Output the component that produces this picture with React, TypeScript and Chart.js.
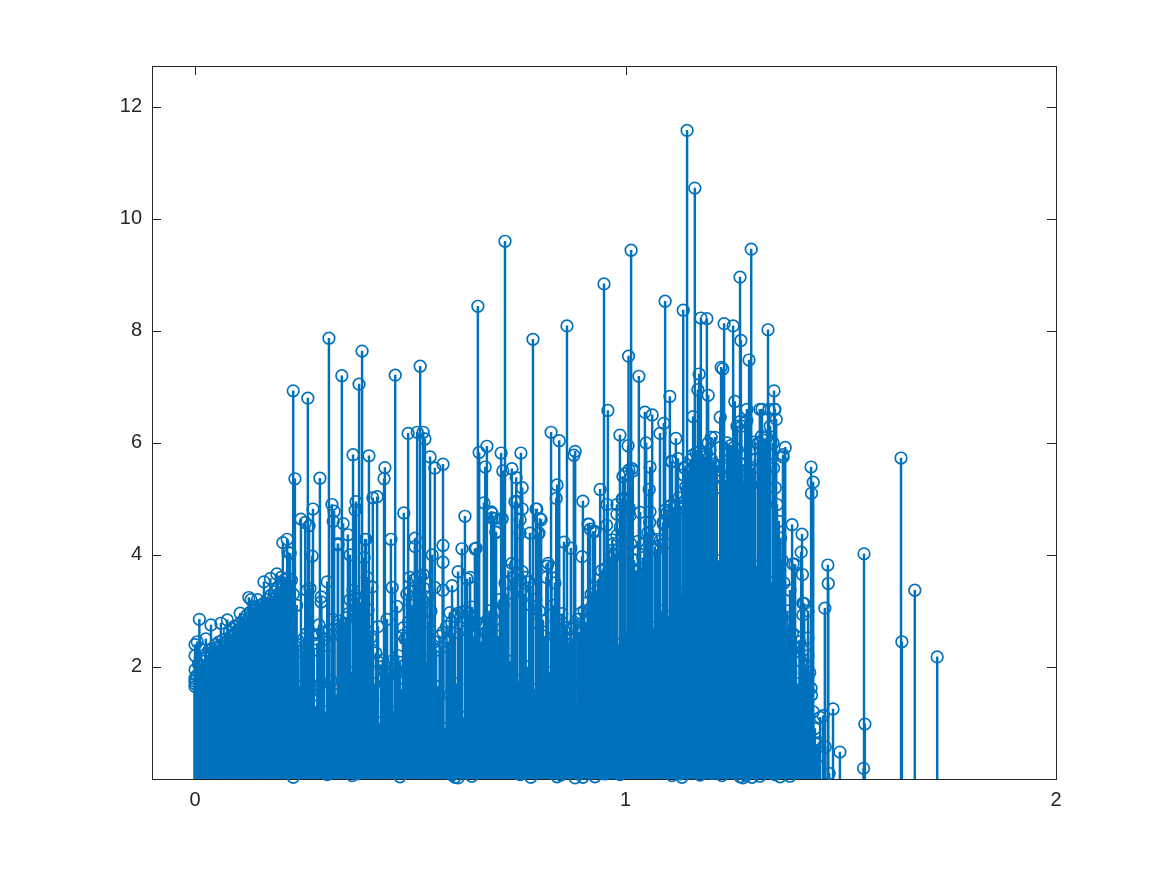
import React, { useEffect, useRef } from "react";
import { Chart, registerables } from "chart.js";

Chart.register(...registerables);

const peakX = [
  0, 0, 0, 0, 0, 0, 0.005, 0.01, 0.025, 0.037, 0.06, 0.075, 0.09, 0.105, 0.125, 0.13, 0.145, 0.16, 0.175, 0.19, 0.2,
  0.228, 0.232, 0.262, 0.29, 0.311, 0.341, 0.381, 0.388, 0.367, 0.404, 0.441, 0.439, 0.465, 0.485, 0.495, 0.516, 0.523, 0.53, 0.534, 0.546, 0.557, 0.576, 0.455,
  0.246, 0.256, 0.265, 0.274, 0.204, 0.214, 0.216, 0.221, 0.272, 0.318, 0.323, 0.321, 0.344, 0.332, 0.372, 0.374, 0.395, 0.413, 0.423, 0.36, 0.393,
  0.657, 0.72, 0.66, 0.678, 0.674, 0.671, 0.627, 0.711, 0.715, 0.736, 0.746, 0.757, 0.76, 0.748, 0.688, 0.695, 0.699, 0.713, 0.785, 0.792, 0.801, 0.797,
  0.827, 0.846, 0.841, 0.839, 0.864, 0.883, 0.88, 0.901, 0.915, 0.925, 0.941, 0.95, 0.959, 0.957, 0.956, 0.987, 1.006, 1.013, 1.007, 1.031, 1.045, 1.062, 1.048, 1.057, 1.055,
  0.999, 1.008, 1.015, 0.994, 1.08, 1.089, 1.092, 1.103, 1.106, 1.117, 1.122, 1.134, 1.143, 1.136, 1.161, 1.157, 1.168, 1.171, 1.175, 1.189, 1.192, 1.199,
  1.222, 1.226, 1.229, 1.25, 1.254, 1.266, 1.268, 1.259, 1.269, 1.282, 1.287, 1.292, 1.278, 1.312, 1.331, 1.345, 1.333, 1.346, 1.35, 1.371,
  1.387, 1.394, 1.41, 1.408, 1.411, 1.415, 1.431, 1.436, 1.432, 1.431, 1.452, 1.47, 1.471, 1.463, 1.459, 1.449, 1.464, 1.482, 1.473, 1.498, 1.554, 1.556, 1.553, 1.64, 1.642, 1.672, 1.724,
];
const peakY = [
  2.4, 2.2, 1.95, 1.8, 1.75, 1.65, 2.45, 2.85, 2.5, 2.75, 2.78, 2.84, 2.72, 2.96, 3.24, 3.2, 3.2, 3.52, 3.58, 3.66, 3.6,
  6.93, 5.36, 6.8, 5.37, 7.87, 7.2, 7.05, 7.64, 5.79, 5.77, 5.56, 5.36, 7.21, 4.75, 6.17, 6.19, 7.37, 6.19, 6.07, 5.75, 5.55, 5.62, 4.28,
  4.64, 4.58, 4.52, 4.82, 4.22, 4.28, 4.05, 4.03, 3.98, 4.9, 4.78, 4.6, 4.56, 4.2, 4.8, 4.95, 4.28, 5.02, 5.04, 4, 3.95,
  8.44, 9.6, 5.83, 5.94, 5.57, 4.93, 4.69, 5.82, 5.5, 5.54, 5.38, 5.82, 5.2, 4.95, 4.77, 4.65, 4.4, 4.65, 7.85, 4.82, 4.65, 4.38,
  6.19, 6.04, 5.25, 5.01, 8.09, 5.85, 5.78, 4.96, 4.55, 4.42, 5.17, 8.84, 6.58, 4.9, 4.53, 6.14, 5.95, 9.44, 7.55, 7.19, 6.55, 6.5, 6, 5.57, 5.17,
  5.45, 5.52, 5.54, 5, 6.17, 6.35, 8.53, 6.83, 5.67, 6.08, 5.72, 8.37, 11.58, 5.56, 10.55, 6.47, 6.95, 7.23, 8.23, 8.22, 6.85, 6.1,
  7.35, 7.32, 8.13, 8.09, 6.74, 8.96, 7.83, 6.3, 6.3, 6.6, 7.48, 9.46, 6.37, 6.6, 8.02, 6.93, 6.6, 6.6, 6.42, 5.92,
  4.54, 3.83, 4.37, 4.05, 3.65, 3.13, 5.57, 5.3, 5.1, 1.62, 1.1, 3.82, 3.49, 3.05, 1.13, 0.65, 0.57, 1.25, 0.1, 0.48, 4.02, 0.98, 0.19, 5.73, 2.45, 3.37, 2.18,
];

const midX = [
  0.69, 0.69, 0.713, 0.699, 0.653, 0.639, 0.743, 0.76, 0.755, 0.755, 0.778, 0.794, 0.804, 0.799, 0.818, 0.857, 0.873, 0.899, 0.913, 0.918, 0.929, 0.969, 0.971, 0.98, 0.98, 0.992, 0.994, 1.017, 1.01, 1.029, 1.017, 1.034, 1.057, 1.092, 1.103, 1.087, 1.138, 1.134, 1.143, 1.145,
  0.307, 0.293, 0.293, 0.26, 0.267, 0.288, 0.367, 0.411, 0.402, 0.446, 0.425, 0.469, 0.458, 0.483, 0.492, 0.492, 0.499, 0.53, 0.511, 0.511, 0.551, 0.576, 0.576, 0.557, 0.576, 0.597, 0.611, 0.632, 0.62, 0.65, 0.643, 0.592, 0.332, 0.355, 0.397, 0.4,
  1.22, 1.266, 1.301, 1.236, 1.192, 1.208, 1.108, 1.317, 1.347, 1.282, 1.301, 1.343, 1.336, 1.312, 1.231, 1.366, 1.366, 1.382, 1.389, 1.412, 1.424, 1.424, 1.412,
];
const midY = [
  4.74, 4.66, 4.64, 4.41, 4.12, 3.6, 4.95, 4.82, 4.63, 4.39, 4.39, 4.82, 4.63, 4.39, 3.8, 4.23, 4.12, 3.97, 4.55, 4.46, 4.42, 4.27, 4, 4.9, 4.73, 5, 5.4, 5.5, 4.7, 4.24, 3.92, 4.76, 4.77, 4.8, 4.86, 4.58, 5.55, 5.43, 5.16, 5.04,
  3.52, 3.25, 3.16, 3.37, 3.4, 2.75, 3.37, 3.43, 3.02, 2.85, 2.72, 3.08, 3.42, 2.56, 3.3, 2.5, 3.6, 3.65, 4.3, 4.15, 4, 4.17, 3.87, 3.42, 3.37, 3.45, 3.7, 3.57, 4.11, 4.11, 3.07, 2.97, 4.18, 4.36, 4.28, 3.6,
  6.46, 6.38, 6.02, 6, 6, 6.1, 5.67, 6.6, 6.6, 6.4, 5.7, 6, 6.3, 6, 5.3, 5.79, 5.75, 3.37, 3.84, 3.14, 2.52, 3, 2.93,
];

const lowX = [0.228, 0.307, 0.365, 0.376, 0.476, 0.574, 0.597, 0.604, 0.611, 0.643, 0.755, 0.78, 0.827, 0.841, 0.85, 0.883, 0.892, 0.901, 0.929, 0.952, 0.987, 1.108, 1.127, 1.131, 1.173, 1.201, 1.224, 1.266, 1.273, 1.28, 1.294, 1.312, 1.347, 1.359, 1.382];
const lowY = [0.03, 0.08, 0.06, 0.09, 0.04, 0.12, 0.07, 0.03, 0.02, 0.05, 0.08, 0.03, 0.11, 0.04, 0.07, 0.02, 0.09, 0.03, 0.04, 0.09, 0.08, 0.06, 0.09, 0.03, 0.07, 0.1, 0.06, 0.04, 0.02, 0.06, 0.03, 0.05, 0.08, 0.04, 0.05];

const fillX = [
  0, 0.004, 0.008, 0.012, 0.016, 0.02, 0.024, 0.028, 0.032, 0.036,
  0.04, 0.044, 0.048, 0.052, 0.056, 0.06, 0.064, 0.068, 0.072, 0.076,
  0.08, 0.084, 0.088, 0.092, 0.096, 0.1, 0.104, 0.108, 0.112, 0.116,
  0.12, 0.124, 0.128, 0.132, 0.136, 0.14, 0.144, 0.148, 0.152, 0.156,
  0.16, 0.164, 0.168, 0.172, 0.176, 0.18, 0.184, 0.188, 0.192, 0.196,
  0.2, 0.204, 0.208, 0.212, 0.216, 0.22, 0.224, 0.228, 0.232, 0.236,
  0.24, 0.244, 0.248, 0.252, 0.256, 0.26, 0.264, 0.268, 0.272, 0.276,
  0.28, 0.284, 0.288, 0.292, 0.296, 0.3, 0.304, 0.308, 0.312, 0.316,
  0.32, 0.324, 0.328, 0.332, 0.336, 0.34, 0.344, 0.348, 0.352, 0.356,
  0.36, 0.364, 0.368, 0.372, 0.376, 0.38, 0.384, 0.388, 0.392, 0.396,
  0.4, 0.404, 0.408, 0.412, 0.416, 0.42, 0.424, 0.428, 0.432, 0.436,
  0.44, 0.444, 0.448, 0.452, 0.456, 0.46, 0.464, 0.468, 0.472, 0.476,
  0.48, 0.484, 0.488, 0.492, 0.496, 0.5, 0.504, 0.508, 0.512, 0.516,
  0.52, 0.524, 0.528, 0.532, 0.536, 0.54, 0.544, 0.548, 0.552, 0.556,
  0.56, 0.564, 0.568, 0.572, 0.576, 0.58, 0.584, 0.588, 0.592, 0.596,
  0.6, 0.604, 0.608, 0.612, 0.616, 0.62, 0.624, 0.628, 0.632, 0.636,
  0.64, 0.644, 0.648, 0.652, 0.656, 0.66, 0.664, 0.668, 0.672, 0.676,
  0.68, 0.684, 0.688, 0.692, 0.696, 0.7, 0.704, 0.708, 0.712, 0.716,
  0.72, 0.724, 0.728, 0.732, 0.736, 0.74, 0.744, 0.748, 0.752, 0.756,
  0.76, 0.764, 0.768, 0.772, 0.776, 0.78, 0.784, 0.788, 0.792, 0.796,
  0.8, 0.804, 0.808, 0.812, 0.816, 0.82, 0.824, 0.828, 0.832, 0.836,
  0.84, 0.844, 0.848, 0.852, 0.856, 0.86, 0.864, 0.868, 0.872, 0.876,
  0.88, 0.884, 0.888, 0.892, 0.896, 0.9, 0.904, 0.908, 0.912, 0.916,
  0.92, 0.924, 0.928, 0.932, 0.936, 0.94, 0.944, 0.948, 0.952, 0.956,
  0.96, 0.964, 0.968, 0.972, 0.976, 0.98, 0.984, 0.988, 0.992, 0.996,
  1, 1.004, 1.008, 1.012, 1.016, 1.02, 1.024, 1.028, 1.032, 1.036,
  1.04, 1.044, 1.048, 1.052, 1.056, 1.06, 1.064, 1.068, 1.072, 1.076,
  1.08, 1.084, 1.088, 1.092, 1.096, 1.1, 1.104, 1.108, 1.112, 1.116,
  1.12, 1.124, 1.128, 1.132, 1.136, 1.14, 1.144, 1.148, 1.152, 1.156,
  1.16, 1.164, 1.168, 1.172, 1.176, 1.18, 1.184, 1.188, 1.192, 1.196,
  1.2, 1.204, 1.208, 1.212, 1.216, 1.22, 1.224, 1.228, 1.232, 1.236,
  1.24, 1.244, 1.248, 1.252, 1.256, 1.26, 1.264, 1.268, 1.272, 1.276,
  1.28, 1.284, 1.288, 1.292, 1.296, 1.3, 1.304, 1.308, 1.312, 1.316,
  1.32, 1.324, 1.328, 1.332, 1.336, 1.34, 1.344, 1.348, 1.352, 1.356,
  1.36, 1.364, 1.368, 1.372, 1.376, 1.38, 1.384, 1.388, 1.392, 1.396,
  1.4, 1.404, 1.408, 1.412, 1.416, 1.42, 1.424, 1.428, 1.432, 1.436,
  1.44, 1.444, 1.448,
];
const fillY = [
  1.7, 1.85, 2.05, 2.0, 2.15, 2.1, 2.22, 2.18, 2.3, 2.25,
  2.32, 2.28, 2.4, 2.36, 2.45, 2.38, 2.48, 2.42, 2.5, 2.46,
  2.62, 2.55, 2.68, 2.6, 2.72, 2.66, 2.78, 2.7, 2.84, 2.76,
  2.92, 2.86, 2.98, 2.9, 3.04, 2.96, 3.08, 3.0, 3.1, 3.04,
  3.14, 3.08, 3.2, 3.12, 3.28, 3.2, 3.34, 3.25, 3.4, 3.32,
  3.52, 3.4, 3.56, 3.48, 3.58, 3.5, 3.55, 3.3, 1.42, 3.1,
  2.4, 1.65, 2.28, 2.5, 1.1, 2.6, 2.22, 1.55, 2.56, 2.3,
  1.3, 2.42, 2.58, 1.7, 2.62, 2.5, 1.2, 2.38, 2.66, 1.75,
  2.85, 2.6, 1.5, 2.74, 2.82, 2.55, 1.8, 2.78, 2.88, 2.95,
  3.2, 1.9, 3.12, 3.28, 3.05, 3.22, 3.15, 1.6, 2.7, 2.58,
  2.64, 1.3, 2.52, 2.3, 1.7, 2.25, 2.1, 1.0, 2.0, 2.12,
  1.92, 1.4, 1.85, 1.98, 2.1, 1.2, 2.02, 1.88, 2.2, 2.08,
  1.6, 2.7, 2.5, 1.95, 2.8, 3.35, 3.1, 3.55, 1.75, 3.6,
  3.45, 3.62, 3.2, 3.4, 2.1, 3.25, 2.8, 3.0, 1.2, 2.45,
  2.3, 1.65, 2.55, 2.35, 2.62, 0.9, 2.72, 2.45, 1.5, 2.8,
  2.6, 2.9, 1.7, 2.96, 2.7, 2.98, 1.1, 3.0, 2.65, 2.95,
  2.76, 1.7, 2.55, 2.8, 1.4, 2.78, 2.45, 2.7, 1.9, 2.62,
  2.85, 3.0, 2.72, 1.5, 2.84, 2.98, 2.55, 3.2, 1.8, 3.1,
  3.5, 3.3, 3.72, 2.1, 3.85, 3.6, 3.82, 3.4, 1.75, 3.55,
  3.7, 3.3, 3.6, 2.0, 3.52, 3.1, 3.4, 1.6, 3.2, 2.78,
  3.0, 0.9, 2.82, 2.55, 3.6, 3.85, 1.9, 3.78, 3.1, 3.5,
  2.85, 1.5, 2.6, 2.95, 2.45, 2.7, 1.4, 2.4, 2.68, 2.5,
  2.75, 1.3, 2.85, 2.62, 2.96, 1.7, 3.0, 2.8, 3.15, 3.02,
  3.3, 1.8, 3.42, 3.25, 3.55, 2.0, 3.72, 3.5, 3.75, 3.6,
  3.7, 3.95, 2.2, 4.2, 4.0, 4.35, 2.4, 4.5, 4.8, 4.4,
  5.0, 2.6, 4.85, 4.2, 2.5, 3.9, 3.72, 3.55, 2.3, 3.62,
  3.95, 4.2, 2.6, 4.4, 4.58, 4.3, 2.7, 4.15, 4.1, 4.28,
  4.25, 3.0, 4.55, 4.2, 4.75, 2.9, 4.88, 4.6, 4.85, 3.1,
  4.9, 5.02, 4.85, 3.3, 4.95, 5.22, 5.05, 5.5, 5.7, 5.78,
  5.6, 5.82, 5.7, 5.85, 5.65, 5.8, 5.75, 5.82, 5.6, 5.88,
  5.7, 5.62, 5.5, 5.6, 3.9, 5.2, 5.4, 5.55, 3.7, 5.6,
  5.85, 5.95, 5.78, 5.92, 5.7, 5.88, 5.65, 3.6, 5.62, 5.3,
  5.2, 3.4, 5.1, 5.25, 5.55, 5.7, 3.8, 6.0, 5.9, 6.12,
  6.05, 5.95, 6.1, 5.8, 5.6, 3.5, 5.55, 5.2, 4.9, 4.6,
  4.3, 3.9, 3.5, 2.4, 3.0, 2.75, 1.9, 2.6, 2.35, 2.55,
  1.7, 2.45, 2.1, 2.3, 1.5, 2.02, 2.2, 1.9, 1.5, 1.2,
  0.9, 0.62, 0.4,
];

const BLUE = "#0072BD";
const INK = "#262626";
const xTickValues = [0, 1, 2];
const yTickValues = [2, 4, 6, 8, 10, 12];

const toPoints = (xs: number[], ys: number[]) => xs.map((x, i) => ({ x, y: ys[i] }));

const stemPoints = [
  ...toPoints(fillX, fillY),
  ...toPoints(peakX, peakY),
  ...toPoints(midX, midY),
  ...toPoints(lowX, lowY),
];

const axesBox = {
  id: "axesBox",
  beforeDatasetsDraw(chart: any) {
    const { ctx, chartArea: a, scales } = chart;
    const len = 9;
    ctx.save();
    ctx.strokeStyle = INK;
    ctx.lineWidth = 1;
    ctx.strokeRect(Math.round(a.left) + 0.5, Math.round(a.top) + 0.5, Math.round(a.right - a.left), Math.round(a.bottom - a.top));
    ctx.beginPath();
    for (const t of xTickValues) {
      const p = Math.round(scales.x.getPixelForValue(t)) + 0.5;
      ctx.moveTo(p, a.bottom);
      ctx.lineTo(p, a.bottom - len);
      ctx.moveTo(p, a.top);
      ctx.lineTo(p, a.top + len);
    }
    for (const t of yTickValues) {
      const p = Math.round(scales.y.getPixelForValue(t)) + 0.5;
      ctx.moveTo(a.left, p);
      ctx.lineTo(a.left + len, p);
      ctx.moveTo(a.right, p);
      ctx.lineTo(a.right - len, p);
    }
    ctx.stroke();
    ctx.restore();
  },
};

export default function App() {
  const ref = useRef<HTMLCanvasElement | null>(null);
  useEffect(() => {
    document.body.style.margin = "0";
    const chart = new Chart(ref.current as HTMLCanvasElement, {
      type: "bar",
      plugins: [axesBox],
      data: {
        datasets: [
          {
            type: "bar",
            data: stemPoints,
            backgroundColor: BLUE,
            borderWidth: 0,
            barThickness: 1.8,
            order: 2,
          },
          {
            type: "scatter",
            data: stemPoints,
            pointStyle: "circle",
            pointRadius: 5.8,
            pointBorderWidth: 1.7,
            pointBackgroundColor: "rgba(0,0,0,0)",
            pointBorderColor: BLUE,
            showLine: false,
            clip: false,
            order: 1,
          },
        ],
      } as any,
      options: {
        animation: false,
        responsive: false,
        events: [],
        layout: { padding: { top: 66, right: 111, left: 0, bottom: 0 } },
        plugins: { legend: { display: false }, tooltip: { enabled: false }, title: { display: false } },
        scales: {
          x: {
            type: "linear",
            min: -0.1,
            max: 2,
            offset: false,
            grid: { display: false },
            border: { display: false },
            afterBuildTicks: (s: any) => {
              s.ticks = xTickValues.map((value) => ({ value }));
            },
            afterFit: (s: any) => {
              s.height = 96;
            },
            ticks: {
              color: INK,
              padding: 1,
              maxRotation: 0,
              font: { family: "'Liberation Sans', Arial, sans-serif", size: 20 },
              callback: (v: any) => String(v),
            },
          },
          y: {
            type: "linear",
            min: 0,
            max: 12.73,
            grid: { display: false },
            border: { display: false },
            afterBuildTicks: (s: any) => {
              s.ticks = yTickValues.map((value) => ({ value }));
            },
            afterFit: (s: any) => {
              s.width = 152;
            },
            ticks: {
              color: INK,
              padding: 2,
              font: { family: "'Liberation Sans', Arial, sans-serif", size: 20 },
              callback: (v: any) => String(v),
            },
          },
        },
      } as any,
    });
    return () => chart.destroy();
  }, []);
  return <canvas ref={ref} width={1167} height={875} style={{ display: "block" }} />;
}
